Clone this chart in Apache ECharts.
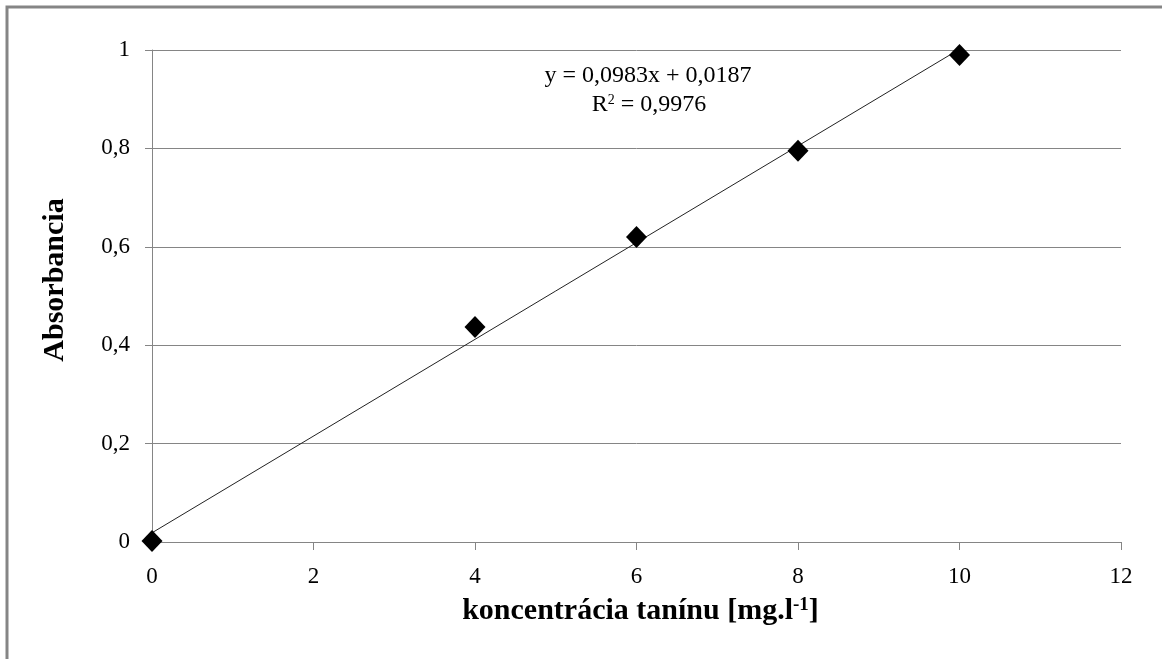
<!DOCTYPE html>
<html>
<head>
<meta charset="utf-8">
<script src="https://cdn.jsdelivr.net/npm/echarts@6/dist/echarts.min.js"></script>
<style>
  html, body { margin: 0; padding: 0; background: #fff; }
  #chart { width: 1162px; height: 659px; }
</style>
</head>
<body>
<div id="chart"></div>
<script>
// measured points
const concentration = [0, 4, 6, 8, 10];
const absorbance = [0.002, 0.437, 0.62, 0.795, 0.99];

// linear fit shown in the chart
const slope = 0.0983;
const intercept = 0.0187;
const fitRange = [0, 10];

const xTicks = [0, 2, 4, 6, 8, 10, 12];
const yTicks = [0, 0.2, 0.4, 0.6, 0.8, 1];

const serif = '"Liberation Serif", "DejaVu Serif", serif';
const gray = '#858585';

const chart = echarts.init(document.getElementById('chart'));

const fitLine = fitRange.map(x => [x, slope * x + intercept]);
const fmt = v => String(+v.toFixed(1)).replace('.', ',');

chart.setOption({
  animation: false,
  grid: { left: 152, top: 50, right: 41, bottom: 117 },
  xAxis: {
    type: 'value',
    min: xTicks[0],
    max: xTicks[xTicks.length - 1],
    interval: 2,
    name: 'koncentrácia tanínu [mg.l{sup|-1}]',
    nameLocation: 'middle',
    nameGap: 54,
    nameTextStyle: {
      fontFamily: serif, fontSize: 30, fontWeight: 'bold', color: '#000',
      padding: [0, 0, 0, 8],
      rich: {
        sup: { fontFamily: serif, fontSize: 19, fontWeight: 'bold', color: '#000', verticalAlign: 'top', padding: [0, 0, 12, 0] }
      }
    },
    axisLine: { show: true, lineStyle: { color: gray, width: 1 } },
    axisTick: { show: true, length: 8, lineStyle: { color: gray } },
    axisLabel: { fontFamily: serif, fontSize: 23, color: '#000', margin: 23 },
    splitLine: { show: false }
  },
  yAxis: {
    type: 'value',
    min: yTicks[0],
    max: yTicks[yTicks.length - 1],
    interval: 0.2,
    name: 'Absorbancia',
    nameLocation: 'middle',
    nameGap: 82,
    nameTextStyle: {
      fontFamily: serif, fontSize: 30, fontWeight: 'bold', color: '#000',
      padding: [0, 0, 0, 32]
    },
    axisLine: { show: true, lineStyle: { color: gray, width: 1 } },
    axisTick: { show: true, length: 7, lineStyle: { color: gray } },
    axisLabel: { fontFamily: serif, fontSize: 23, color: '#000', margin: 22, formatter: fmt },
    splitLine: { show: true, lineStyle: { color: gray, width: 1 } }
  },
  graphic: [
    {
      type: 'polyline',
      shape: { points: [[7, 659], [7, 7], [1162, 7]] },
      style: { stroke: gray, lineWidth: 3, fill: null }
    },
    {
      type: 'text',
      x: 648, y: 76,
      style: {
        text: 'y = 0,0983x + 0,0187',
        font: '24px ' + serif, fill: '#000',
        align: 'center', verticalAlign: 'middle'
      }
    },
    {
      type: 'text',
      x: 649, y: 105,
      style: {
        text: 'R{sup|2} = 0,9976',
        font: '24px ' + serif, fill: '#000',
        align: 'center', verticalAlign: 'middle',
        rich: { sup: { fontFamily: serif, fontSize: 14, fill: '#000', verticalAlign: 'top', padding: [0, 0, 8, 0] } }
      }
    }
  ],
  series: [
    {
      type: 'line',
      data: fitLine,
      showSymbol: false,
      symbol: 'none',
      lineStyle: { color: '#222', width: 1 },
      z: 2
    },
    {
      type: 'scatter',
      data: concentration.map((x, i) => [x, absorbance[i]]),
      symbol: 'diamond',
      symbolSize: [21, 22],
      itemStyle: { color: '#000', opacity: 1 },
      z: 3
    }
  ]
});
</script>
</body>
</html>
